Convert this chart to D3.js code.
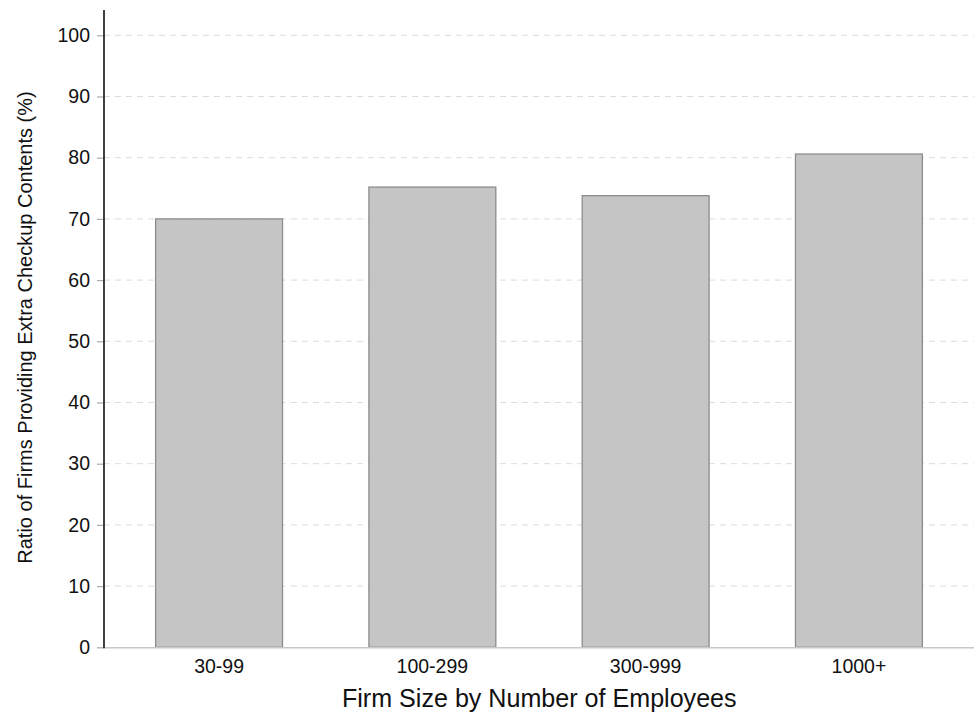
<!DOCTYPE html>
<html><head><meta charset="utf-8">
<script src="https://cdn.jsdelivr.net/npm/d3@7"></script>
<style>body{margin:0;background:#fff}svg{display:block;font-family:"Liberation Sans",Arial,Helvetica,sans-serif}</style>
</head><body><svg id="c" width="974" height="712"></svg>
<script>
const categories = ["30-99", "100-299", "300-999", "1000+"];
const values = [70.0, 75.2, 73.8, 80.6];
const yTicks = [0, 10, 20, 30, 40, 50, 60, 70, 80, 90, 100];

(function () {
const svg = d3.select("#c");
const mLeft = 104, mRight = 974, mTop = 10, mBottom = 647.3;
const y = d3.scaleLinear().domain([0, 100]).range([mBottom, mBottom - 612]);
const x = d3.scaleBand().domain(categories).range([mLeft, mRight]).paddingInner(0.405).paddingOuter(0.242);

// gridlines
svg.append("g").selectAll("line").data(yTicks.filter(d => d > 0)).join("line")
  .attr("x1", mLeft).attr("x2", mRight).attr("y1", d => y(d)).attr("y2", d => y(d))
  .attr("stroke", "#dcdcdc").attr("stroke-width", 1).attr("stroke-dasharray", "6,5");

// bars
svg.append("g").selectAll("rect").data(values).join("rect")
  .attr("x", (d, i) => x(categories[i])).attr("width", x.bandwidth())
  .attr("y", d => y(d)).attr("height", d => y(0) - y(d))
  .attr("fill", "#c4c5c4").attr("stroke", "#8c8c8c").attr("stroke-width", 1.3);

// x axis
const xa = svg.append("g").attr("transform", `translate(0,${mBottom})`)
  .call(d3.axisBottom(x).tickSize(0).tickPadding(12));
xa.select(".domain").attr("stroke", "#c8c8c8").attr("stroke-width", 1.5);
xa.selectAll("text").attr("font-size", 19.5).attr("fill", "#111").attr("font-family", "Liberation Sans, Arial, sans-serif");

// y axis
const ya = svg.append("g").attr("transform", `translate(${mLeft},0)`)
  .call(d3.axisLeft(y).tickValues(yTicks).tickSize(7).tickPadding(7));
ya.select(".domain").remove();
ya.selectAll(".tick line").attr("stroke", "#aaa").attr("stroke-width", 1.2);
ya.selectAll("text").attr("font-size", 19.5).attr("fill", "#111").attr("font-family", "Liberation Sans, Arial, sans-serif");
svg.append("line").attr("x1", mLeft).attr("x2", mLeft).attr("y1", mTop).attr("y2", mBottom + 1)
  .attr("stroke", "#111").attr("stroke-width", 1.6);

// titles
svg.append("text").attr("x", 539.3).attr("y", 706.5).attr("text-anchor", "middle")
  .attr("font-size", 25.1).attr("fill", "#111").text("Firm Size by Number of Employees");
svg.append("text").attr("transform", `translate(32,327.5) rotate(-90)`)
  .attr("text-anchor", "middle").attr("font-size", 20).attr("fill", "#111")
  .text("Ratio of Firms Providing Extra Checkup Contents (%)");
})();
</script></body></html>
